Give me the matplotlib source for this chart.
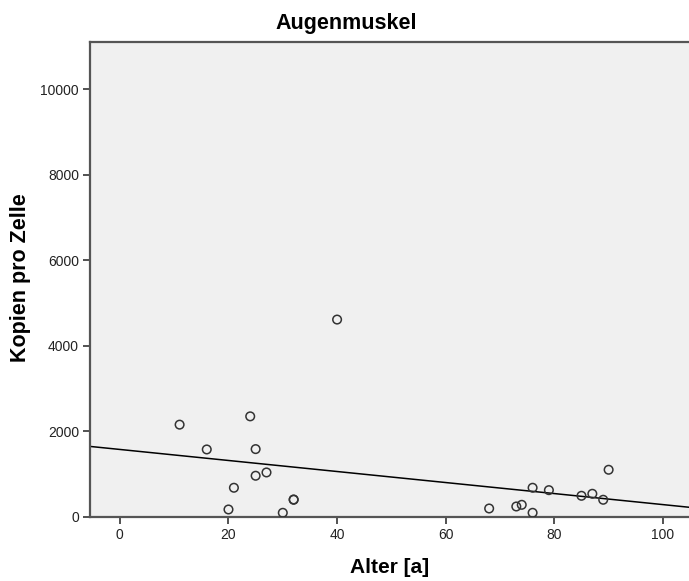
import matplotlib.pyplot as plt
import numpy as np

plt.rcParams['font.family'] = ['Liberation Sans', 'DejaVu Sans']

# Alter [a] and Kopien pro Zelle
alter = [11, 16, 20, 21, 24, 25, 25, 27, 30, 32, 32, 40,
         68, 73, 74, 76, 76, 79, 85, 87, 89, 90]
kopien = [2160, 1580, 176, 684, 2354, 1588, 965, 1042, 98, 403, 410, 4618,
          199, 246, 285, 98, 684, 628, 496, 543, 403, 1105]

# linear fit line as drawn in the reference
fit_intercept = 1580
fit_slope = -12.9

xticks = [0, 20, 40, 60, 80, 100]
yticks = [0, 2000, 4000, 6000, 8000, 10000]

W, H = 689, 581
fig = plt.figure(figsize=(W / 100, H / 100), dpi=100)
ax = fig.add_axes([90 / W, 1 - 517 / H, 1 - 90 / W, (517 - 42) / H])
ax.set_facecolor('#f0f0f0')

ax.scatter(alter, kopien, s=38, facecolors='none', edgecolors='#333333',
           linewidths=1.1, zorder=3)

xl = np.array([-5.5, 104.8])
ax.plot(xl, fit_intercept + fit_slope * xl, color='black', lw=1.1, zorder=2)

ax.set_xlim(-5.5, 104.8)
ax.set_ylim(0, 11110)
ax.set_xticks(xticks)
ax.set_yticks(yticks)
ax.tick_params(axis='both', direction='out', length=5, width=1.2,
               color='#333333', labelsize=10, labelcolor='#222222', pad=3)

for side in ['left', 'bottom', 'top']:
    ax.spines[side].set_color('#555555')
    ax.spines[side].set_linewidth(1.6)
ax.spines['right'].set_visible(False)

# titles placed in figure pixels like the reference
fig.text(346 / W, 1 - 29 / H, 'Augenmuskel', fontsize=15.5, fontweight='bold',
         ha='center', va='baseline')
fig.text(390 / W, 1 - 573 / H, 'Alter [a]', fontsize=15, fontweight='bold',
         ha='center', va='baseline')
fig.text(21 / W, 1 - 278 / H, 'Kopien pro Zelle', fontsize=15.5, fontweight='bold',
         ha='center', va='center', rotation=90)

fig.savefig('out.png', dpi=100)
